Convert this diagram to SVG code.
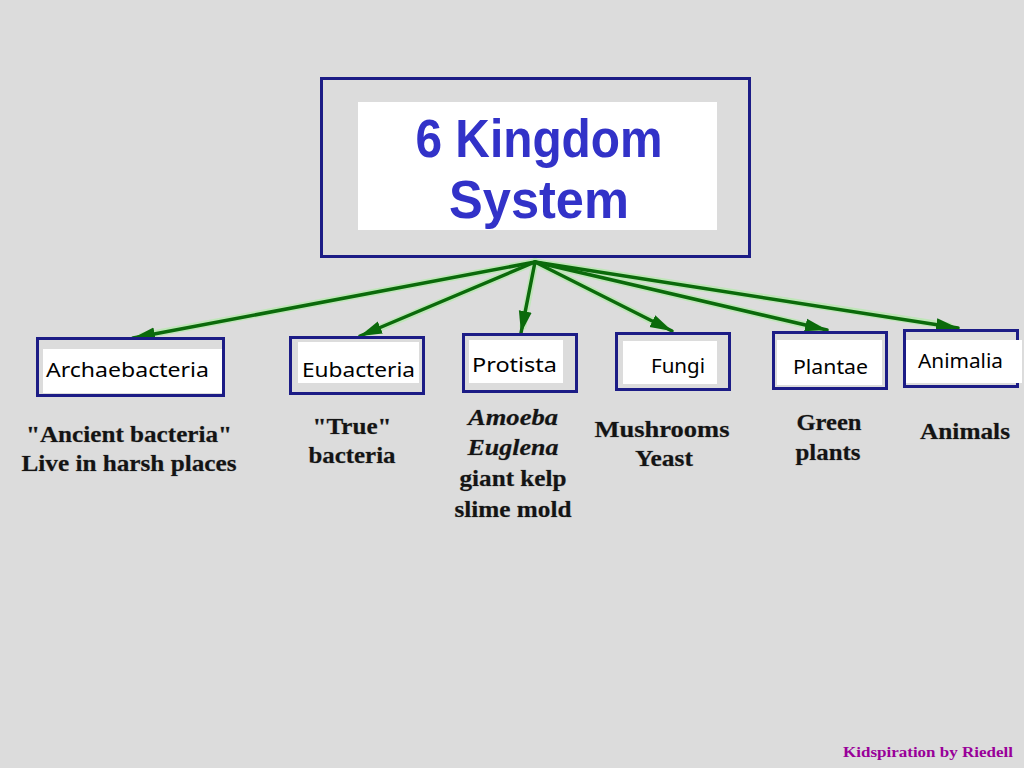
<svg xmlns="http://www.w3.org/2000/svg" width="1024" height="768" viewBox="0 0 1024 768">
<defs>
<style>
.frame{fill:#dcdcdc;stroke:#1c1c86;stroke-width:3}
.inner{fill:#ffffff;stroke:none}
.title{font-family:"Liberation Sans",Arial,sans-serif;font-weight:bold;font-size:54px;fill:#3232c8;text-anchor:middle}
.lbl{font-family:"Noto Sans","Open Sans","DejaVu Sans",sans-serif;font-size:20px;fill:#000000}
.desc{font-family:"Liberation Serif","Times New Roman",serif;font-weight:bold;font-size:24px;fill:#141414;text-anchor:middle;stroke:#9a9a9a;stroke-width:0.6;paint-order:stroke}
.it{font-style:italic}
.halo{fill:none;stroke:#bfe6b8;stroke-width:7;stroke-linecap:round}
.arr{fill:none;stroke:#0b6a0b;stroke-width:3.5;stroke-linecap:round}
.credit{font-family:"Liberation Serif","Times New Roman",serif;font-weight:bold;font-size:15px;fill:#990099}
</style>
<marker id="ah" markerUnits="userSpaceOnUse" markerWidth="24" markerHeight="16" refX="22" refY="8" orient="auto">
<path d="M0,1.5 L22,8 L0,14.5 Z" fill="#0b6a0b"/>
</marker>
</defs>
<rect x="0" y="0" width="1024" height="768" fill="#dcdcdc"/>

<g id="connectors">
<g>
<line class="halo" x1="535" y1="262" x2="142" y2="336"/>
<line class="halo" x1="535" y1="262" x2="368" y2="333"/>
<line class="halo" x1="535" y1="262" x2="523" y2="326"/>
<line class="halo" x1="535" y1="262" x2="664" y2="327"/>
<line class="halo" x1="535" y1="262" x2="818" y2="328"/>
<line class="halo" x1="535" y1="262" x2="949" y2="326"/>
</g>
<line class="arr" x1="535" y1="262" x2="133" y2="338" marker-end="url(#ah)"/>
<line class="arr" x1="535" y1="262" x2="360" y2="336" marker-end="url(#ah)"/>
<line class="arr" x1="535" y1="262" x2="521" y2="333" marker-end="url(#ah)"/>
<line class="arr" x1="535" y1="262" x2="672" y2="331" marker-end="url(#ah)"/>
<line class="arr" x1="535" y1="262" x2="827" y2="330" marker-end="url(#ah)"/>
<line class="arr" x1="535" y1="262" x2="958" y2="328" marker-end="url(#ah)"/>
</g>

<g id="node-title">
<rect class="frame" x="321.5" y="78.5" width="428" height="178"/>
<rect class="inner" x="358" y="102" width="359" height="128"/>
<text class="title" x="539" y="157" textLength="247" lengthAdjust="spacingAndGlyphs">6 Kingdom</text>
<text class="title" x="539" y="218" textLength="180" lengthAdjust="spacingAndGlyphs">System</text>
</g>

<g id="node-archaebacteria">
<rect class="frame" x="37.5" y="338.5" width="186" height="57"/>
<rect class="inner" x="43" y="349" width="179" height="44"/>
<text class="lbl" x="46" y="377" textLength="163" lengthAdjust="spacingAndGlyphs">Archaebacteria</text>
</g>

<g id="node-eubacteria">
<rect class="frame" x="290.5" y="337.5" width="133" height="56"/>
<rect class="inner" x="298" y="342" width="121" height="41"/>
<text class="lbl" x="302" y="377" textLength="113" lengthAdjust="spacingAndGlyphs">Eubacteria</text>
</g>

<g id="node-protista">
<rect class="frame" x="463.5" y="334.5" width="113" height="57"/>
<rect class="inner" x="469" y="340" width="94" height="43"/>
<text class="lbl" x="472" y="372" textLength="85" lengthAdjust="spacingAndGlyphs">Protista</text>
</g>

<g id="node-fungi">
<rect class="frame" x="616.5" y="333.5" width="113" height="56"/>
<rect class="inner" x="623" y="341" width="94" height="43"/>
<text class="lbl" x="651" y="373" textLength="54" lengthAdjust="spacingAndGlyphs">Fungi</text>
</g>

<g id="node-plantae">
<rect class="frame" x="773.5" y="332.5" width="113" height="56"/>
<rect class="inner" x="777" y="340" width="105" height="45"/>
<text class="lbl" x="793" y="374" textLength="75" lengthAdjust="spacingAndGlyphs">Plantae</text>
</g>

<g id="node-animalia">
<rect class="frame" x="904.5" y="330.5" width="113" height="56"/>
<rect class="inner" x="906" y="340" width="116" height="43"/>
<text class="lbl" x="918" y="368" textLength="85" lengthAdjust="spacingAndGlyphs">Animalia</text>
</g>

<g id="desc-archaebacteria">
<text class="desc" x="129" y="442" textLength="206" lengthAdjust="spacingAndGlyphs">"Ancient bacteria"</text>
<text class="desc" x="129" y="471" textLength="215" lengthAdjust="spacingAndGlyphs">Live in harsh places</text>
</g>

<g id="desc-eubacteria">
<text class="desc" x="352" y="434" textLength="79" lengthAdjust="spacingAndGlyphs">"True"</text>
<text class="desc" x="352" y="463" textLength="87" lengthAdjust="spacingAndGlyphs">bacteria</text>
</g>

<g id="desc-protista">
<text class="desc it" x="513" y="425" textLength="90" lengthAdjust="spacingAndGlyphs">Amoeba</text>
<text class="desc it" x="513" y="455" textLength="91" lengthAdjust="spacingAndGlyphs">Euglena</text>
<text class="desc" x="513" y="486" textLength="107" lengthAdjust="spacingAndGlyphs">giant kelp</text>
<text class="desc" x="513" y="517" textLength="117" lengthAdjust="spacingAndGlyphs">slime mold</text>
</g>

<g id="desc-fungi">
<text class="desc" x="662" y="437" textLength="135" lengthAdjust="spacingAndGlyphs">Mushrooms</text>
<text class="desc" x="664" y="466" textLength="58" lengthAdjust="spacingAndGlyphs">Yeast</text>
</g>

<g id="desc-plantae">
<text class="desc" x="829" y="430" textLength="65" lengthAdjust="spacingAndGlyphs">Green</text>
<text class="desc" x="828" y="460" textLength="65" lengthAdjust="spacingAndGlyphs">plants</text>
</g>

<g id="desc-animalia">
<text class="desc" x="965" y="439" textLength="90" lengthAdjust="spacingAndGlyphs">Animals</text>
</g>

<text class="credit" x="843" y="757" textLength="170" lengthAdjust="spacingAndGlyphs">Kidspiration by Riedell</text>
</svg>
